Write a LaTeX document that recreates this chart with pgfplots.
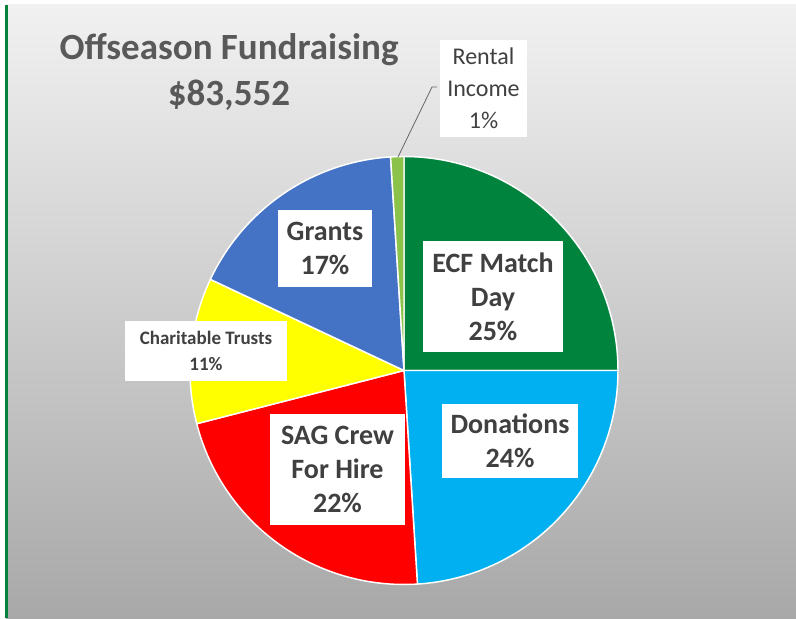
\documentclass[border=0pt]{standalone}
\usepackage{pgfplots}
\pgfplotsset{compat=1.18}
\usepackage{fontspec}
\setmainfont{Carlito}
\definecolor{ecf}{RGB}{0,132,61}
\definecolor{don}{RGB}{0,176,240}
\definecolor{sag}{RGB}{255,0,0}
\definecolor{cha}{RGB}{255,255,0}
\definecolor{gra}{RGB}{68,114,196}
\definecolor{ren}{RGB}{139,195,74}
\definecolor{lbl}{RGB}{64,64,64}
\definecolor{ttl}{RGB}{89,89,89}
\definecolor{bgtop}{RGB}{241,241,241}
\definecolor{bgbot}{RGB}{168,168,168}
\definecolor{frame}{RGB}{0,130,60}
% data: percentages of $83,552, clockwise from 12 o'clock
\def\vECF{25}
\def\vDon{24}
\def\vSAG{22}
\def\vCha{11}
\def\vGra{17}
\def\vRen{1}
\newcommand{\slice}[3]{% cumulative start, cumulative end, colour
  \pgfmathsetmacro{\aLo}{90-3.6*(#2)}%
  \pgfmathsetmacro{\aHi}{90-3.6*(#1)}%
  \addplot[fill=#3, draw=white, line width=1.1pt, line join=round,
    domain=\aLo:\aHi, samples=80, variable=\t]
    ({cos(\t)},{sin(\t)}) -- (axis cs:0,0) -- cycle;
}
\begin{document}
\begin{tikzpicture}[x=0.75pt,y=0.75pt]
\useasboundingbox (0,0) rectangle (796,618);
\fill[white] (0,0) rectangle (796,618);
\shade[top color=bgtop, bottom color=bgbot] (6,0) rectangle (796,613);
\draw[frame, line width=1.6pt] (6.5,0) -- (6.5,613);
\coordinate (pc) at (404,247.5);
\begin{axis}[
  at={(pc)}, anchor=center,
  width=321pt, height=321pt, scale only axis,
  xmin=-1, xmax=1, ymin=-1, ymax=1,
  hide axis, clip=false]
\pgfmathsetmacro{\cA}{\vECF}
\pgfmathsetmacro{\cB}{\cA+\vDon}
\pgfmathsetmacro{\cC}{\cB+\vSAG}
\pgfmathsetmacro{\cD}{\cC+\vCha}
\pgfmathsetmacro{\cE}{\cD+\vGra}
\pgfmathsetmacro{\cF}{\cE+\vRen}
\slice{0}{\cA}{ecf}
\slice{\cA}{\cB}{don}
\slice{\cB}{\cC}{sag}
\slice{\cC}{\cD}{cha}
\slice{\cD}{\cE}{gra}
\slice{\cE}{\cF}{ren}
\end{axis}
% leader line for Rental Income
\draw[gray!80!black, line width=0.6pt] (437,531) -- (432,531) -- (398,461);
% title
\node[text=ttl, align=center, font=\fontsize{27.75pt}{35pt}\selectfont\bfseries] at (229,546) {Offseason Fundraising\\\$83,552};
% data labels
\node[fill=white, text=lbl, align=center, minimum width=65.25pt, minimum height=72.75pt, inner sep=0pt,
  font=\fontsize{18pt}{24pt}\selectfont] at (483.5,529.5) {Rental\\Income\\1\%};
\node[fill=white, text=lbl, align=center, minimum width=70.5pt, minimum height=57.75pt, inner sep=0pt,
  font=\fontsize{21pt}{25.5pt}\selectfont\bfseries] at (325,369.5) {Grants\\17\%};
\node[fill=white, text=lbl, align=center, minimum width=105pt, minimum height=83.25pt, inner sep=0pt,
  font=\fontsize{21pt}{25.5pt}\selectfont\bfseries] at (493,321.5) {ECF Match\\Day\\25\%};
\node[fill=white, text=lbl, align=center, minimum width=121.5pt, minimum height=45pt, inner sep=0pt,
  font=\fontsize{14.25pt}{19.5pt}\selectfont\bfseries] at (206,267) {Charitable Trusts\\11\%};
\node[fill=white, text=lbl, align=center, minimum width=101.25pt, minimum height=83.25pt, inner sep=0pt,
  font=\fontsize{21pt}{25.5pt}\selectfont\bfseries] at (337.5,148.5) {SAG Crew\\For Hire\\22\%};
\node[fill=white, text=lbl, align=center, minimum width=102pt, minimum height=55.5pt, inner sep=0pt,
  font=\fontsize{21pt}{25.5pt}\selectfont\bfseries] at (510,177) {Donations\\24\%};
\end{tikzpicture}
\end{document}
